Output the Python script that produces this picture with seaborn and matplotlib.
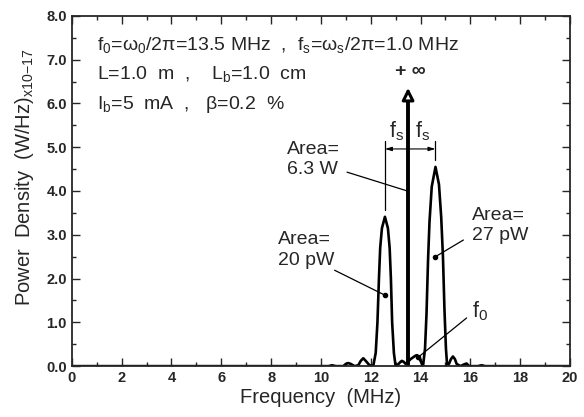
import numpy as np
import pandas as pd
import matplotlib
matplotlib.use("Agg")
import matplotlib.pyplot as plt
import seaborn as sns

# spectrum (MHz, 1e-17 W/Hz)
freq = [0.0, 10.3, 10.45, 10.6, 10.9, 11.0, 11.1, 11.2, 11.35, 11.5, 11.6, 11.7, 11.8, 11.95,
        12.1, 12.2, 12.27, 12.33, 12.38, 12.45, 12.57, 12.69, 12.76, 12.81, 12.86, 12.93, 13.0,
        13.1, 13.2, 13.25, 13.32, 13.4, 13.5, 13.6, 13.7, 13.8, 13.86, 13.95, 14.05,
        14.1, 14.18, 14.24, 14.3, 14.36, 14.45, 14.6, 14.74, 14.83, 14.9, 14.96, 15.02, 15.07,
        15.15, 15.22, 15.3, 15.38, 15.45, 15.6, 15.75, 15.85, 15.95, 16.3, 16.45, 16.6, 20.0]
power = [0.0, 0.0, 0.02, 0.0, 0.0, 0.05, 0.07, 0.05, 0.0, 0.02, 0.12, 0.18, 0.12, 0.02,
         0.0, 0.3, 1.0, 2.0, 2.7, 3.15, 3.41, 3.15, 2.7, 2.0, 1.0, 0.3, 0.0,
         0.04, 0.1, 0.12, 0.1, 0.05, 0.1, 0.16, 0.2, 0.24, 0.25, 0.18, 0.06,
         0.0, 0.4, 1.2, 2.4, 3.3, 4.1, 4.55, 4.15, 3.4, 2.5, 1.3, 0.4, 0.0,
         0.06, 0.16, 0.22, 0.16, 0.05, 0.0, 0.04, 0.06, 0.0, 0.0, 0.02, 0.0, 0.0]

f0 = 13.5
carrier_top = 6.12
sideband_f = [12.57, 14.6]
sideband_h = [3.41, 4.55]

x_ticks = list(range(0, 21, 2))
y_ticks = [0, 1, 2, 3, 4, 5, 6, 7, 8]

sns.set_style("ticks")
plt.rcParams["font.family"] = ["Liberation Sans", "DejaVu Sans"]
plt.rcParams["mathtext.default"] = "regular"
plt.rcParams["xtick.direction"] = "in"
plt.rcParams["ytick.direction"] = "in"

fig = plt.figure(figsize=(5.84, 4.17), dpi=100)
ax = fig.add_axes([0.123, 0.122, 0.853, 0.84])

df = pd.DataFrame({"freq": freq, "power": power})
sns.lineplot(data=df, x="freq", y="power", ax=ax, color="black", linewidth=1.9,
             sort=False, estimator=None)

# carrier line with open arrow head
ax.plot([f0, f0], [0, carrier_top], color="black", linewidth=2.8, solid_capstyle="butt")
ax.annotate("", xy=(f0, 6.42), xytext=(f0, carrier_top - 0.02),
            arrowprops=dict(arrowstyle="-|>,head_length=0.7,head_width=0.35",
                            facecolor="white", edgecolor="black", linewidth=2.2))
ax.text(f0 + 0.1, 6.72, "+ ∞", ha="center", va="center", fontsize=14, fontweight="bold")

# fs dimension marks
ax.plot([sideband_f[0]] * 2, [5.15, sideband_h[0] + 0.15], color="black", linewidth=0.9)
ax.plot([sideband_f[1]] * 2, [5.15, sideband_h[1] + 0.15], color="black", linewidth=0.9)
for xf in sideband_f:
    ax.annotate("", xy=(xf, 4.96), xytext=(f0, 4.96),
                arrowprops=dict(arrowstyle="-|>,head_length=0.4,head_width=0.12",
                                color="black", linewidth=0.8, shrinkA=0, shrinkB=0))
ax.text(13.03, 5.1, "f$_s$", ha="center", va="bottom", fontsize=15.5)
ax.text(14.07, 5.1, "f$_s$", ha="center", va="bottom", fontsize=15.5)

# labels with leader lines
txt = dict(fontsize=14, ha="left", va="center", linespacing=1.25)
ax.text(8.65, 4.72, "Area=\n6.3 W", **txt)
ax.plot([11.05, f0 - 0.03], [4.43, 4.0], color="black", linewidth=0.9)

ax.text(8.27, 2.65, "Area=\n20 pW", **txt)
ax.plot([10.55, sideband_f[0]], [2.19, 1.62], color="black", linewidth=0.9)
ax.plot(sideband_f[0], 1.62, "o", color="black", markersize=3)

ax.text(16.08, 3.22, "Area=\n27 pW", **txt)
ax.plot([15.72, sideband_f[1]], [2.88, 2.5], color="black", linewidth=0.9)
ax.plot(sideband_f[1], 2.5, "o", color="black", markersize=3)

ax.text(16.05, 1.25, "f$_0$", ha="left", va="center", fontsize=15.5)
ax.plot([15.85, 13.9], [1.1, 0.2], color="black", linewidth=0.9)
ax.plot(13.9, 0.2, "o", color="black", markersize=3)

# parameter block
ptxt = dict(fontsize=14, va="center")
ax.text(1.0, 7.34, "f$_0$=ω$_0$/2π=13.5 MHz  ,  f$_s$=ω$_s$/2π=1.0 MHz", **ptxt)
ax.text(1.0, 6.68, "L=1.0  m  ,    L$_b$=1.0  cm", **ptxt)
ax.text(1.0, 5.98, "I$_b$=5  mA  ,   β=0.2  %", **ptxt)

ax.set_xlim(0, 20)
ax.set_ylim(0, 8)
ax.set_xticks(x_ticks)
ax.set_yticks(y_ticks)
ax.set_xticks(np.arange(1, 20, 2), minor=True)
ax.set_yticks(np.arange(0.5, 8, 1), minor=True)
ax.set_yticklabels([f"{v:.1f}" for v in y_ticks])
ax.tick_params(which="both", top=True, right=True, labelsize=10.5, width=1.0)
ax.tick_params(which="major", length=6)
ax.tick_params(which="minor", length=3)
for lbl in ax.get_xticklabels() + ax.get_yticklabels():
    lbl.set_fontweight("bold")
for sp in ax.spines.values():
    sp.set_linewidth(1.3)

ax.set_xlabel("Frequency  (MHz)", fontsize=14.5, labelpad=2)
ax.set_ylabel("Power  Density  (W/Hz)$_{x10{-}17}$", fontsize=14.5)
ax.yaxis.set_label_coords(-0.072, 0.54)

fig.savefig("out.png", dpi=100)
